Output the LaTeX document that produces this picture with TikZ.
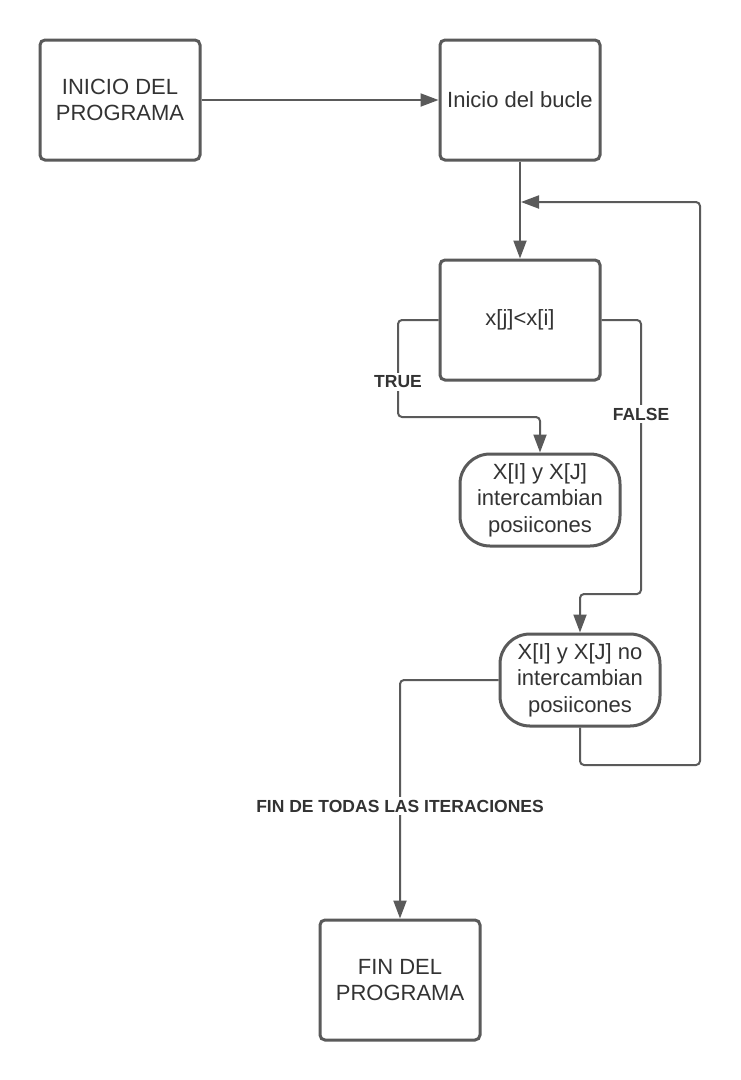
\documentclass[tikz,border=0pt]{standalone}
\usepackage{fontspec}
\setmainfont{Liberation Sans}
\usetikzlibrary{arrows.meta}
\definecolor{ln}{HTML}{5A5A5A}
\definecolor{tx}{HTML}{333333}
\begin{document}
\begin{tikzpicture}[x=1pt,y=-1pt,
  box/.style={draw=ln, line width=3pt, rounded corners=5pt, minimum width=160pt, minimum height=120pt, align=center, text=tx, font=\fontsize{22}{26.5}\selectfont, inner sep=0pt},
  term/.style={box, rounded corners=30pt, minimum height=92pt},
  conn/.style={draw=ln, line width=2pt, rounded corners=4pt},
  arr/.style={conn, -{Triangle[length=18pt,width=13pt]}},
  lbl/.style={fill=white, text=tx, font=\bfseries\fontsize{17.5}{20}\selectfont, inner sep=3pt}]
\useasboundingbox (0,0) rectangle (741,1080);
\fill[white] (0,0) rectangle (741,1080);

\node[box] (ini) at (120,100) {INICIO DEL\\PROGRAMA};
\node[box] (buc) at (520,100) {Inicio del bucle};
\node[box] (cond) at (520,320) {x[j]<x[i]};
\node[term] (si) at (540,500) {X[I] y X[J]\\intercambian\\posiicones};
\node[term] (no) at (580,680) {X[I] y X[J] no\\intercambian\\posiicones};
\node[box] (fin) at (400,980) {FIN DEL\\PROGRAMA};
\coordinate (loopend) at (521,202);

\draw[arr] (ini.east) -- (buc.west);
\draw[arr] (buc.south) -- (cond.north);
\draw[arr] (cond.west) -- (398,320) -- (398,417) -- (540,417) -- (si.north);
\draw[arr] (cond.east) -- (641,320) -- (641,594) -- (580,594) -- (no.north);
\draw[arr] (no.south) -- (580,765) -- (700,765) -- (700,202) -- (loopend);
\draw[arr] (no.west) -- (400,680) -- (fin.north);

\node[lbl] (ltrue) at (398,382) {TRUE};
\node[lbl] (lfalse) at (641,414) {FALSE};
\node[lbl] (lfin) at (400,806) {FIN DE TODAS LAS ITERACIONES};
\end{tikzpicture}
\end{document}
